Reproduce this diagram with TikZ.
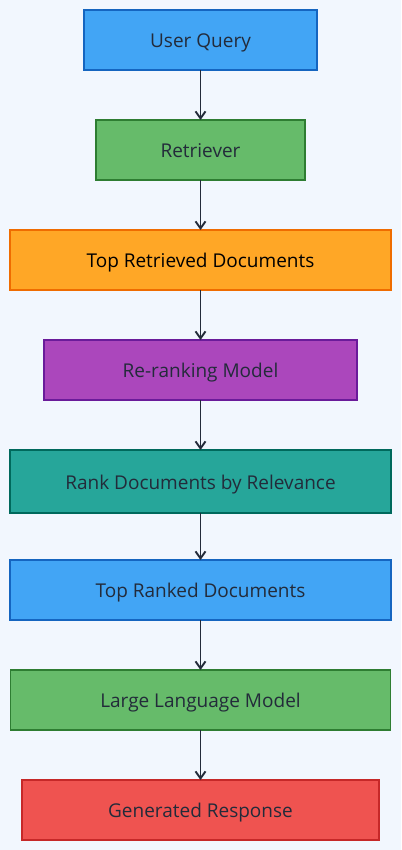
\documentclass[tikz,border=0pt]{standalone}
\usepackage{fontspec}
\setmainfont{Open Sans}
\usetikzlibrary{positioning, arrows.meta}

\definecolor{pagebg}{HTML}{F2F7FE}
\definecolor{inkdark}{HTML}{232B3A}
\definecolor{bluefill}{HTML}{42A5F5}
\definecolor{blueline}{HTML}{1565C0}
\definecolor{greenfill}{HTML}{66BB6A}
\definecolor{greenline}{HTML}{2E7D32}
\definecolor{orangefill}{HTML}{FFA726}
\definecolor{orangeline}{HTML}{EF6C00}
\definecolor{purplefill}{HTML}{AB47BC}
\definecolor{purpleline}{HTML}{6A1B9A}
\definecolor{tealfill}{HTML}{26A69A}
\definecolor{tealline}{HTML}{00695C}
\definecolor{redfill}{HTML}{EF5350}
\definecolor{redline}{HTML}{C62828}

\tikzset{
    stage/.style={draw, rectangle, line width=1.4pt, outer sep=0pt, minimum height=60pt,
        text height=19pt, text depth=3.6pt,
        text=inkdark, font=\fontsize{19pt}{22pt}\selectfont},
    flow/.style={-{Straight Barb[length=7pt, width=10pt]}, line width=1.9pt, draw=inkdark}
}

\begin{document}
\begin{tikzpicture}[x=1pt, y=1pt, node distance=50pt]
    % Background
    \fill[pagebg] (0,0) rectangle (401,-850);
    \useasboundingbox (0,0) rectangle (401,-850);

    % Pipeline stages
    \node[stage, fill=bluefill, draw=blueline, minimum width=233pt] (query) at (200.5,-40) {User Query};
    \node[stage, fill=greenfill, draw=greenline, minimum width=209pt, below=of query] (retriever) {Retriever};
    \node[stage, fill=orangefill, draw=orangeline, minimum width=381pt, text=black, below=of retriever] (topdocs) {Top Retrieved Documents};
    \node[stage, fill=purplefill, draw=purpleline, minimum width=313pt, below=of topdocs] (reranker) {Re-ranking Model};
    \node[stage, fill=tealfill, draw=tealline, minimum width=381pt, minimum height=63pt, below=of reranker] (rankrel) {Rank Documents by Relevance};
    \node[stage, fill=bluefill, draw=blueline, minimum width=381pt, below=47pt of rankrel] (ranked) {Top Ranked Documents};
    \node[stage, fill=greenfill, draw=greenline, minimum width=380pt, below=of ranked] (llm) {Large Language Model};
    \node[stage, fill=redfill, draw=redline, minimum width=357pt, below=of llm] (answer) {Generated Response};

    % Arrows
    \foreach \a/\b in {query/retriever, retriever/topdocs, topdocs/reranker, reranker/rankrel,
                       rankrel/ranked, ranked/llm, llm/answer}
        \draw[flow] (\a) -- (\b);
\end{tikzpicture}
\end{document}
